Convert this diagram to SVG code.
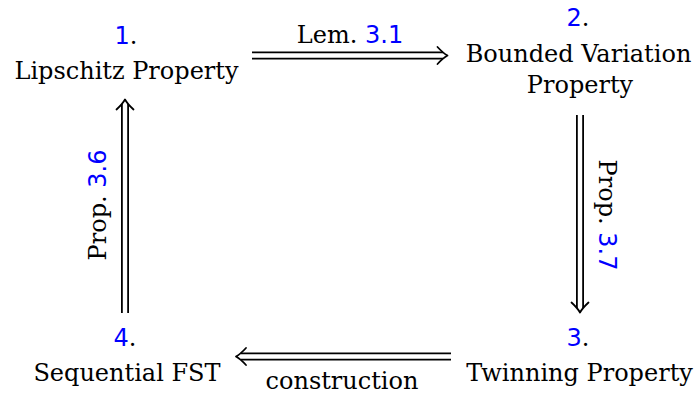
<svg xmlns="http://www.w3.org/2000/svg" width="700" height="394" viewBox="0 0 700 394">
<style>
.t{font-family:"DejaVu Serif","Liberation Serif",serif;font-size:24px;fill:#000}
.n{font-family:"DejaVu Sans","Liberation Sans",sans-serif;fill:#0000ff}
.outer{stroke:#000;stroke-width:8;fill:none}
.inner{stroke:#fff;stroke-width:4.4;fill:none}
.head{stroke:#000;stroke-width:1.8;fill:none;stroke-linecap:round;stroke-linejoin:round}
</style>
<rect width="700" height="394" fill="#fff"/>
<g id="connectors">
  <g id="e12">
    <line class="outer" x1="252" y1="55.5" x2="443" y2="55.5"/>
    <line class="inner" x1="251" y1="55.5" x2="444" y2="55.5"/>
    <path class="head" d="M437.5,47 Q443,53 447.5,55.5 Q443,58 437.5,64"/>
    <text class="t" x="350" y="43" text-anchor="middle">Lem. <tspan class="n">3.1</tspan></text>
  </g>
  <g id="e23">
    <line class="outer" x1="580" y1="115" x2="580" y2="308"/>
    <line class="inner" x1="580" y1="114" x2="580" y2="309"/>
    <path class="head" d="M571.5,302.5 Q577.5,308 580,312.5 Q582.5,308 588.5,302.5"/>
    <text class="t" transform="translate(599,215) rotate(90)" text-anchor="middle">Prop. <tspan class="n">3.7</tspan></text>
  </g>
  <g id="e34">
    <line class="outer" x1="451" y1="356.5" x2="241" y2="356.5"/>
    <line class="inner" x1="452" y1="356.5" x2="240" y2="356.5"/>
    <path class="head" d="M246,348 Q240.5,354 236,356.5 Q240.5,359 246,365"/>
    <text class="t" x="342" y="389" text-anchor="middle">construction</text>
  </g>
  <g id="e41">
    <line class="outer" x1="125" y1="313" x2="125" y2="104"/>
    <line class="inner" x1="125" y1="314" x2="125" y2="103"/>
    <path class="head" d="M116.5,109.5 Q122.5,104 125,99.5 Q127.5,104 133.5,109.5"/>
    <text class="t" transform="translate(106,205) rotate(-90)" text-anchor="middle">Prop. <tspan class="n">3.6</tspan></text>
  </g>
</g>
<g id="node1">
  <text class="t" x="126" y="44" text-anchor="middle"><tspan class="n">1</tspan>.</text>
  <text class="t" x="126.5" y="79" text-anchor="middle">Lipschitz Property</text>
</g>
<g id="node2">
  <text class="t" x="578" y="26" text-anchor="middle"><tspan class="n">2</tspan>.</text>
  <text class="t" x="578.5" y="62" text-anchor="middle">Bounded Variation</text>
  <text class="t" x="580" y="93" text-anchor="middle">Property</text>
</g>
<g id="node3">
  <text class="t" x="578" y="346" text-anchor="middle"><tspan class="n">3</tspan>.</text>
  <text class="t" x="579.5" y="381" text-anchor="middle">Twinning Property</text>
</g>
<g id="node4">
  <text class="t" x="125" y="346" text-anchor="middle"><tspan class="n">4</tspan>.</text>
  <text class="t" x="127" y="381" text-anchor="middle">Sequential FST</text>
</g>
</svg>
